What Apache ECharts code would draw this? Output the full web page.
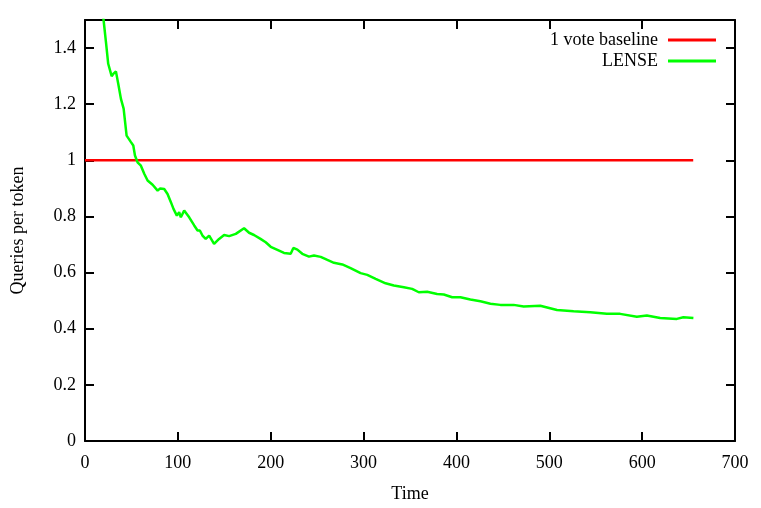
<!DOCTYPE html>
<html>
<head>
<meta charset="utf-8">
<script src="https://cdn.jsdelivr.net/npm/echarts@6/dist/echarts.min.js"></script>
<style>
  html, body { margin: 0; padding: 0; background: #fff; }
  #chart { width: 761px; height: 508px; }
</style>
</head>
<body>
<div id="chart"></div>
<script>
// LENSE 曲线数据
const lenseTimes = [18, 20, 22.6, 25, 28.7, 31, 33.3, 35.8, 38.7, 41.6, 43.4, 44.8, 49.5, 52, 53.8, 56.6,
  60.2, 63.8, 67.4, 72.8, 78.2, 81, 85.3, 88.9, 92.5, 95.3, 98.9, 101.4, 103.2, 106.8, 108.6, 112.2,
  117.6, 121.2, 123.7, 126.5, 130, 133.7, 139, 144.4, 149.8, 155.2, 162.4, 171.3, 176.7, 182, 189,
  194.6, 200, 207.2, 214.3, 221.5, 224.4, 228.7, 234, 241.2, 246.6, 253.8, 261, 268.1, 277.1, 286,
  296.8, 304, 313, 323.7, 332.6, 343.4, 352.3, 359.5, 368.5, 379.2, 386.4, 395.4, 404.3, 415, 425.8,
  436.6, 447.3, 461.6, 472.4, 490.3, 508.3, 526.2, 544.1, 562, 576.3, 594.3, 605, 619.4, 637.3, 644.4, 655.2];
const lenseValues = [1.56, 1.5, 1.42, 1.344, 1.30, 1.31, 1.317, 1.273, 1.219, 1.184, 1.13, 1.088, 1.065, 1.053, 1.017, 0.993,
  0.981, 0.952, 0.928, 0.913, 0.892, 0.90, 0.898, 0.88, 0.851, 0.827, 0.803, 0.815, 0.797, 0.821, 0.827, 0.797,
  0.768, 0.75, 0.75, 0.732, 0.72, 0.732, 0.702, 0.72, 0.734, 0.73, 0.738, 0.758, 0.742, 0.734, 0.72,
  0.708, 0.692, 0.681, 0.67, 0.667, 0.688, 0.682, 0.667, 0.657, 0.661, 0.656, 0.645, 0.635, 0.629, 0.616,
  0.598, 0.592, 0.578, 0.562, 0.554, 0.548, 0.542, 0.53, 0.532, 0.524, 0.522, 0.512, 0.512, 0.504, 0.498,
  0.489, 0.485, 0.485, 0.479, 0.482, 0.467, 0.462, 0.459, 0.453, 0.453, 0.443, 0.447, 0.438, 0.435, 0.441, 0.438];
// 1 vote baseline
const baselineTimes = [0, 655];
const baselineValues = [1, 1];

const fontFamily = "Liberation Serif";
const axisLine = { show: true, onZero: false, lineStyle: { color: "#000", width: 2 } };
const axisTick = { show: true, inside: true, length: 9, lineStyle: { color: "#000", width: 2 } };

const chartDom = document.getElementById("chart");
const myChart = echarts.init(chartDom);
const option = {
  animation: false,
  grid: { left: 85, right: 26, top: 20, bottom: 66 },
  legend: {
    right: 40,
    top: 26,
    orient: "vertical",
    align: "right",
    icon: "rect",
    itemWidth: 48,
    itemHeight: 3,
    itemGap: 3,
    textStyle: { fontFamily: fontFamily, fontSize: 18, lineHeight: 18, color: "#000", padding: [0, 5, 0, 0] },
    data: ["1 vote baseline", "LENSE"],
  },
  xAxis: [
    {
      type: "value",
      min: 0,
      max: 700,
      interval: 100,
      name: "Time",
      nameLocation: "middle",
      nameGap: 44,
      nameTextStyle: { fontFamily: fontFamily, fontSize: 18, color: "#000" },
      axisLine: axisLine,
      axisTick: axisTick,
      axisLabel: { fontFamily: fontFamily, fontSize: 18, color: "#000", margin: 13 },
      splitLine: { show: false },
    },
    {
      type: "value",
      position: "top",
      min: 0,
      max: 700,
      interval: 100,
      axisLine: axisLine,
      axisTick: axisTick,
      axisLabel: { show: false },
      splitLine: { show: false },
    },
  ],
  yAxis: [
    {
      type: "value",
      min: 0,
      max: 1.5,
      interval: 0.2,
      name: "Queries per token",
      nameLocation: "middle",
      nameGap: 58,
      nameTextStyle: { fontFamily: fontFamily, fontSize: 18, color: "#000" },
      axisLine: axisLine,
      axisTick: axisTick,
      axisLabel: { fontFamily: fontFamily, fontSize: 18, color: "#000", margin: 9, showMaxLabel: false },
      splitLine: { show: false },
    },
    {
      type: "value",
      position: "right",
      min: 0,
      max: 1.5,
      interval: 0.2,
      axisLine: axisLine,
      axisTick: axisTick,
      axisLabel: { show: false },
      splitLine: { show: false },
    },
  ],
  series: [
    {
      name: "1 vote baseline",
      type: "line",
      symbol: "none",
      color: "#ff0000",
      lineStyle: { width: 2.5, color: "#ff0000" },
      data: baselineTimes.map((t, i) => [t, baselineValues[i]]),
    },
    {
      name: "LENSE",
      type: "line",
      symbol: "none",
      color: "#00ff00",
      clip: true,
      lineStyle: { width: 2.5, color: "#00ff00" },
      data: lenseTimes.map((t, i) => [t, lenseValues[i]]),
    },
  ],
};
myChart.setOption(option);
</script>
</body>
</html>
